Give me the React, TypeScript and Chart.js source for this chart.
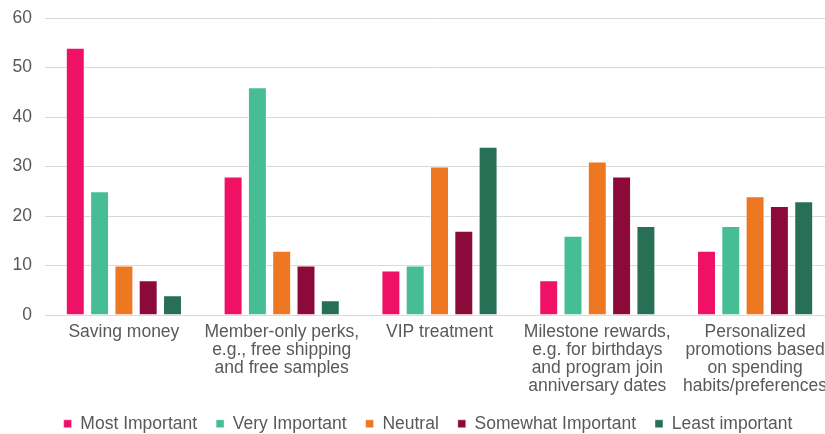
import React, { useEffect, useRef } from "react";
import { Chart, registerables } from "chart.js";

Chart.register(...registerables);

const categories: string[][] = [
  ["Saving money"],
  ["Member-only perks,", "e.g., free shipping", "and free samples"],
  ["VIP treatment"],
  ["Milestone rewards,", "e.g. for birthdays", "and program join", "anniversary dates"],
  ["Personalized", "promotions based", "on spending", "habits/preferences"],
];

const seriesNames = ["Most Important", "Very Important", "Neutral", "Somewhat Important", "Least important"];
const mostImportant = [54, 28, 9, 7, 13];
const veryImportant = [25, 46, 10, 16, 18];
const neutral = [10, 13, 30, 31, 24];
const somewhatImportant = [7, 10, 17, 28, 22];
const leastImportant = [4, 3, 34, 18, 23];
const seriesColors = ["#EE1166", "#46BD94", "#EE7722", "#8C0A3A", "#277055"];
const yTicks = [0, 10, 20, 30, 40, 50, 60];

const FONT = "'Liberation Sans', Arial, Helvetica, sans-serif";
const TEXT = "#595959";

const legendShift = {
  id: "legendShift",
  afterLayout(chart: any) {
    if (chart.legend) {
      chart.legend.left += 11;
      chart.legend.right += 11;
    }
  },
};

export default function App() {
  const ref = useRef<HTMLCanvasElement | null>(null);
  useEffect(() => {
    if (!ref.current) return;
    const values = [mostImportant, veryImportant, neutral, somewhatImportant, leastImportant];
    const chart = new Chart(ref.current, {
      type: "bar",
      data: {
        labels: categories,
        datasets: seriesNames.map((name, i) => ({
          label: name,
          data: values[i],
          backgroundColor: seriesColors[i],
          borderColor: "rgba(255,255,255,0.45)",
          borderWidth: 1,
          categoryPercentage: 0.77,
          barPercentage: 0.78,
        })),
      },
      plugins: [legendShift],
      options: {
        responsive: false,
        animation: false,
        layout: { padding: { left: 0, right: 6, top: 18, bottom: 0 } },
        plugins: {
          tooltip: { enabled: false },
          legend: {
            position: "bottom",
            maxHeight: 38,
            labels: {
              boxWidth: 8,
              boxHeight: 8,
              padding: 19,
              color: TEXT,
              font: { family: FONT, size: 17.5 },
            },
          },
        },
        scales: {
          x: {
            grid: { display: false, drawTicks: false },
            border: { display: true, color: "#d9d9d9", width: 1 },
            afterFit: (scale: any) => {
              scale.height = 81;
            },
            ticks: {
              color: TEXT,
              font: { family: FONT, size: 17.5, lineHeight: 1.03 },
              maxRotation: 0,
              autoSkip: false,
              padding: 8,
            },
          },
          y: {
            min: 0,
            max: 60,
            afterBuildTicks: (axis: any) => {
              axis.ticks = yTicks.map((v) => ({ value: v }));
            },
            afterFit: (scale: any) => {
              scale.width = 45;
              scale.paddingTop = 0;
              scale.paddingBottom = 0;
            },
            grid: { color: "#d9d9d9", lineWidth: 1, drawTicks: false },
            border: { display: false },
            ticks: {
              color: TEXT,
              font: { family: FONT, size: 17.5 },
              padding: 13,
            },
          },
        },
      },
    });
    return () => chart.destroy();
  }, []);
  return (
    <div style={{ position: "fixed", left: 0, top: 0, width: 825, height: 434, overflow: "hidden", background: "#fff" }}>
      <canvas ref={ref} width={840} height={434} style={{ display: "block" }} />
    </div>
  );
}
